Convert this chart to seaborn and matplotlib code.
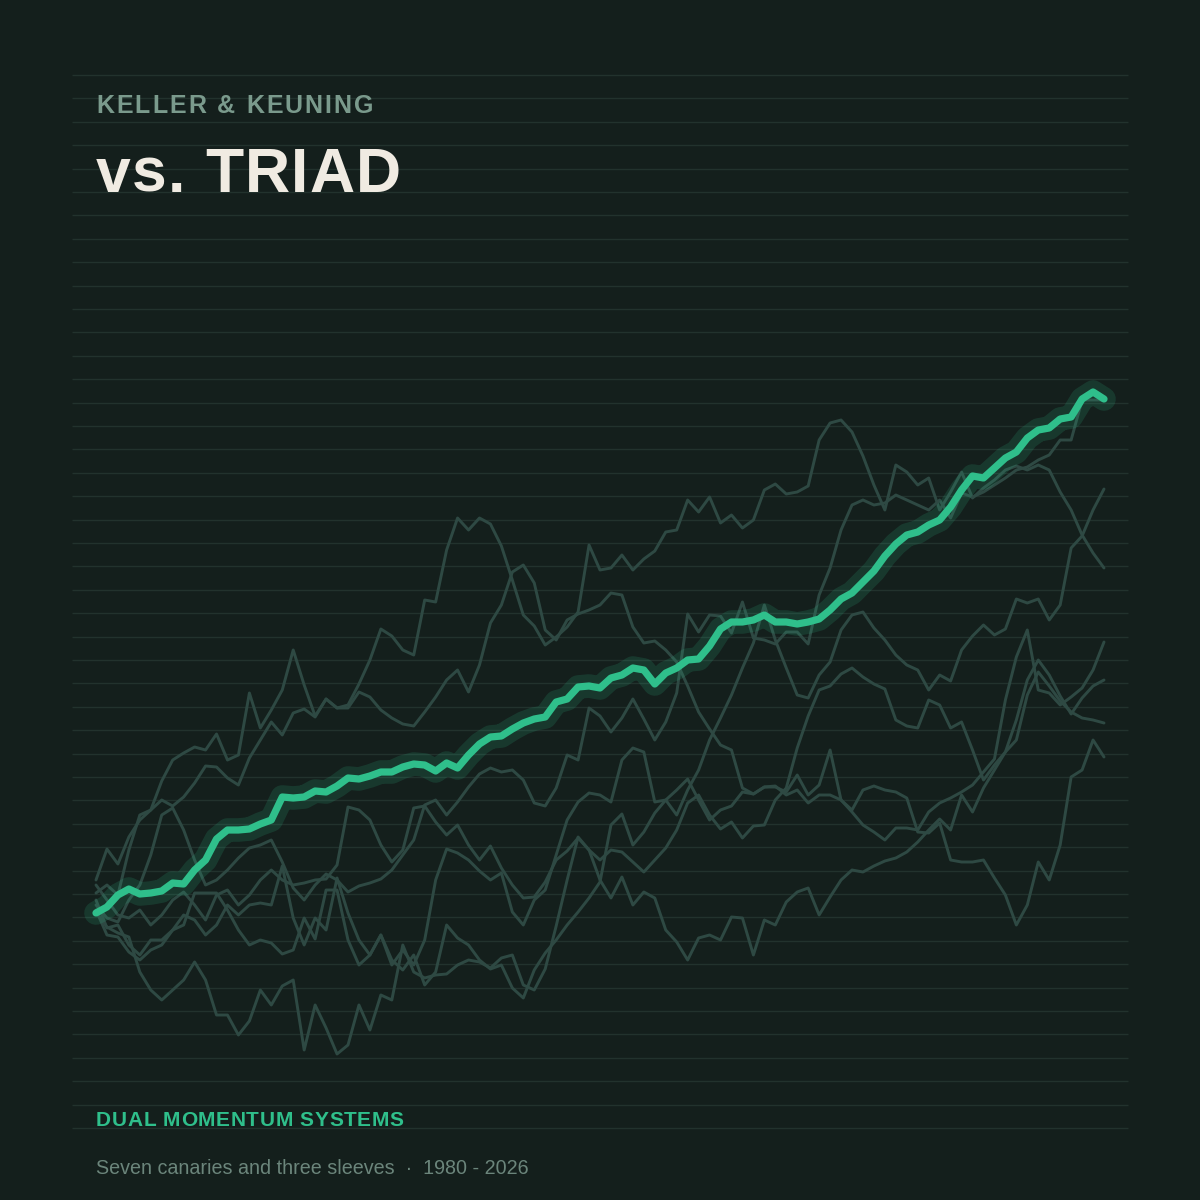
import numpy as np
import pandas as pd
import matplotlib
matplotlib.use("Agg")
import matplotlib.pyplot as plt
from matplotlib.textpath import TextPath
from matplotlib.font_manager import FontProperties
import seaborn as sns

# ---------------- data (cumulative value, semi-annual readings 1980-2026) -------------
triad = [2, 5, 11, 14, 11.5, 12, 13, 17, 16.5, 23.5, 28.5, 39, 43.5, 43.5, 44, 46.5, 48.5,
         60, 59.5, 60, 63, 62.5, 65.5, 69.5, 69, 70.5, 72.5, 72.5, 75, 76.5, 76, 73, 77, 74.5,
         81, 86.5, 90, 90.5, 94, 97, 99, 100, 107.5, 109, 115, 115.5, 114.5, 119.5, 121, 124.5,
         123.5, 116.5, 122, 124.5, 128.5, 129, 135.5, 144, 147.5, 147.5, 148.5, 151, 147.5,
         147.5, 146.5, 147.5, 149, 153.5, 159, 162, 167.5, 173, 180.5, 186.5, 191, 192.5, 196,
         198.5, 205, 213.5, 220.5, 219.5, 224.5, 229.5, 232.5, 239.5, 243.5, 244.5, 249, 250,
         259, 262.5, 259]

canary_a = [18.5, 34, 26.5, 40, 48.5, 53.5, 68, 78.5, 82, 85, 83.5, 91.5, 78.5, 81, 112, 94.5,
            103.5, 113.5, 133.5, 116, 100.5, 109, 104.5, 106, 116.5, 128.5, 144, 140.5, 133.5,
            131, 158.5, 157.5, 183.5, 199.5, 193.5, 199.5, 196.5, 185.5, 168.5, 151, 145.5, 136,
            140, 145, 152.5, 186, 173.5, 174.5, 181, 173.5, 179, 183, 192.5, 193.5, 208.5, 202.5,
            210, 197, 201, 194.5, 198.5, 213.5, 216.5, 211.5, 212.5, 215.5, 238.5, 247, 248.5,
            242.5, 230.5, 216, 203.5, 226, 222.5, 216, 219.5, 203.5, 212.5, 222.5, 209.5, 214.5,
            218.5, 223.5, 225.5, 223.5, 226, 223.5, 212.5, 203.5, 191, 182, 174.5]
canary_b = [6, -0.5, -2.5, 8.5, 16, 31, 51, 54.5, 43.5, 28.5, 16, 18.5, 23.5, 29.5, 34.5, 36,
            38.5, 27.5, 14.5, 8.5, 16, 21.5, 18.5, 12.5, 15.5, 17, 19, 23.5, 31, 38.5, 56, 58.5,
            51, 57.5, 65, 71.5, 74.5, 72.5, 73.5, 68.5, 57, 55.5, 64.5, 81, 78.5, 104.5, 100.5,
            92.5, 99.5, 109, 99, 88.5, 97.5, 112, 151.5, 142.5, 151, 150.5, 142, 157.5, 139.5,
            138.5, 136.5, 142.5, 142.5, 136.5, 161, 174.5, 193.5, 206, 208.5, 206, 207, 211,
            208.5, 206, 203.5, 208.5, 199.5, 212, 210, 212.5, 216, 219.5, 223.5, 225, 228.5, 231,
            238.5, 238.5, 258.5, 258.5, 258.5]
canary_c = [8.5, -5.5, -4, -14, -19, -11.5, -11.5, -6.5, 1, -1.5, -9, -4, 6, 1, 6, 7, 6, 25.5,
            -0.5, -14, -0.5, -6.5, 19.5, 2, -11.5, -19, -9, -21.5, -26.5, -19, -34, -27.5, -4,
            -10.5, -14, -21.5, -26, -24, -35.5, -40.5, -26.5, -18, -11.5, -4, 2.5, 9.5, 17.5, 46,
            51.5, 36, 42.5, 52, 58.5, 51, 63.5, 73.5, 88.5, 99.5, 111, 124.5, 137, 156, 138.5,
            124.5, 111, 109.5, 121, 127.5, 143.5, 151, 152.5, 144.5, 138.5, 131, 126, 123.5,
            113.5, 121, 118, 133.5, 140.5, 146, 141, 144, 159, 157, 159, 148.5, 156, 184.5, 190.5,
            203.5, 214]
canary_d = [3.5, -9, -10, -17.5, -21.5, -16.5, -14, -6.5, -4, 12, 12, 12, 3.5, -6.5, -14, -11.5,
            -13, -18.5, -16.5, -0.5, -11, 13.5, 13.5, -11.5, -24, -19, -9, -24, -16.5, -24, -11.5,
            18.5, 34, 32, 28.5, 23, 18.5, 22, 2.5, -4, 8.5, 13.5, 31, 48.5, 57.5, 62, 61, 57.5,
            78.5, 84.5, 82.5, 57.5, 58.5, 63.5, 69, 58.5, 48.5, 53.5, 55.5, 62.5, 61.5, 65, 65.5,
            61, 63.5, 57, 61, 61, 58.5, 52.5, 46, 42.5, 38.5, 44.5, 44.5, 43.5, 52.5, 57, 59.5,
            62.5, 66, 72.5, 79, 108.5, 130, 143.5, 113.5, 112, 106, 110, 114.5, 123.5, 137.5]
canary_e = [16, 8.5, 1, -0.5, 3.5, -4, 1, 8.5, 12.5, 6, -1.5, 11, 13.5, 6, 11, 18.5, 23.5, 18.5,
            16, 17, 18.5, 19, 26, 55, 53.5, 48.5, 36, 27.5, 33.5, 54.5, 55.5, 47.5, 41, 46, 36,
            28.5, 35.5, 24.5, 16, 9.5, 10, 17.5, 28.5, 33, 39.5, 33.5, 28.5, 33.5, 32.5, 27.5,
            22.5, 28.5, 34.5, 43.5, 57, 61, 51, 44, 47.5, 39.5, 45.5, 46, 58.5, 64.5, 84.5, 100.5,
            113.5, 115.5, 121.5, 124.5, 120, 116.5, 114, 98.5, 95.5, 94.5, 108.5, 106, 94.5, 97.5,
            83.5, 68.5, 76, 82.5, 98.5, 118.5, 128.5, 121, 110.5, 101.5, 109.5, 115.5, 118.5]
canary_f = [2.5, -5, -8, -10, -27.5, -36.5, -41.5, -36.5, -31.5, -22.5, -31.5, -49, -49, -59, -52,
            -36.5, -44, -34.5, -31.5, -66.5, -44, -55.5, -68.5, -64, -44, -56.5, -39, -41.5, -14,
            -27.5, -30.5, -29, -28.5, -24, -21.5, -22.5, -25.5, -20.5, -19, -34, -36.5, -26, -4.5,
            18.5, 40, 33.5, 18.5, 9.5, 20, 6, 12.5, 9.5, -6.5, -12.5, -21.5, -10.5, -9, -11.5, 0,
            -0.5, -19, -1.5, -4, 7.5, 12.5, 14.5, 1, 10, 18.5, 23.5, 22.5, 25.5, 28, 29.5, 32.5,
            37.5, 43.5, 49, 43.5, 61, 52.5, 64.5, 73.5, 82.5, 88.5, 111, 122.5, 115.5, 108, 102.5,
            99.5, 98.5, 97]
canary_g = [12, 16, 11, 33.5, 51, 53.5, 58.5, 55.5, 60, 67, 75.5, 75, 69.5, 66, 79.5, 88.5, 97.5,
            91, 102, 104, 100, 109, 104.5, 104.5, 112.5, 110, 103.5, 99.5, 96.5, 95.5, 102.5, 110,
            118.5, 123.5, 112.5, 126, 147, 156, 172.5, 176, 167, 143.5, 138.5, 148.5, 151.5,
            153.5, 156, 162, 161, 145, 137, 138, 133.5, 127.5, 115.5, 102.5, 94, 86, 83.5, 64.5,
            61.5, 65, 65, 62.5, 71, 61, 66, 83.5, 58.5, 53.5, 63.5, 65.5, 63.5, 62.5, 59.5, 42.5,
            42, 47, 28.5, 27.5, 27.5, 28.5, 19.5, 11, -4, 6, 27.5, 18.5, 36, 70, 73.5, 88.5, 80]

canaries = {"A": canary_a, "B": canary_b, "C": canary_c, "D": canary_d,
            "E": canary_e, "F": canary_f, "G": canary_g}

start_year, end_year = 1980, 2026
kicker = "KELLER & KEUNING"
title = "vs. TRIAD"
label = "DUAL MOMENTUM SYSTEMS"
subtitle = "Seven canaries and three sleeves  \u00b7  1980 - 2026"

# ---------------- style ----------------
BG = "#141f1c"
RULE = "#22322d"
GREY = "#2e4943"
GREEN = "#2fbf8b"
FAMILY = ["Liberation Sans", "DejaVu Sans"]

sns.set_theme(style="white")
plt.rcParams["font.family"] = FAMILY

W = H = 1200
fig = plt.figure(figsize=(12, 12), dpi=100, facecolor=BG)
ax = fig.add_axes([0.06, 0.06, 0.88, 0.8775])
ax.set_facecolor(BG)
ax.set_xlim(1978.905, 2027.095)
ax.set_ylim(-105.5, 421)

# ruled lines
levels = 421 - 11.7 * np.arange(46)
ax.hlines(levels, 1978.905, 2027.095, color=RULE, lw=1.0, zorder=0, clip_on=False)

rows = []
for name, vals in canaries.items():
    yrs = np.linspace(start_year, end_year, len(vals))
    rows.append(pd.DataFrame({"year": yrs, "value": vals, "series": name}))
df = pd.concat(rows, ignore_index=True)

sns.lineplot(data=df, x="year", y="value", units="series", estimator=None,
             color=GREY, lw=2.1, ax=ax, zorder=2, legend=False)

tyrs = np.linspace(start_year, end_year, len(triad))
sns.lineplot(x=tyrs, y=triad, color=GREEN, lw=17, alpha=0.16, ax=ax, zorder=3,
             solid_capstyle="round", solid_joinstyle="round")
sns.lineplot(x=tyrs, y=triad, color=GREEN, lw=5.2, ax=ax, zorder=4,
             solid_capstyle="round", solid_joinstyle="round")

ax.set_axis_off()


def tracked(s, x_px, base_px, size, tracking_px, **kw):
    """Draw text with extra letter spacing (in pixels)."""
    fp = FontProperties(family=FAMILY[0], size=size, weight=kw.get("fontweight", "normal"))
    scale = 100 / 72.0
    ref = TextPath((0, 0), "H", prop=fp).get_extents().width
    for i, ch in enumerate(s):
        if ch == " ":
            continue
        pre = s[:i] + "H"
        w = (TextPath((0, 0), pre, prop=fp).get_extents().x1
             - TextPath((0, 0), "H", prop=fp).get_extents().x1) if i else 0
        xx = x_px + w * scale + i * tracking_px
        fig.text(xx / W, 1 - base_px / H, ch, fontsize=size, va="baseline", ha="left", **kw)


tracked(kicker, 96, 113, 18, 2.0, color="#7a9a8c", fontweight="bold")
tracked(title, 96, 192, 45, 1.2, color="#f0ebe2", fontweight="bold")
tracked(label, 96, 1126, 15, 0.7, color=GREEN, fontweight="bold")
fig.text(96 / W, 1 - 1174 / H, subtitle, color="#6b857b", fontsize=14.2,
         va="baseline", ha="left")

fig.savefig("out.png", dpi=100, facecolor=BG)
